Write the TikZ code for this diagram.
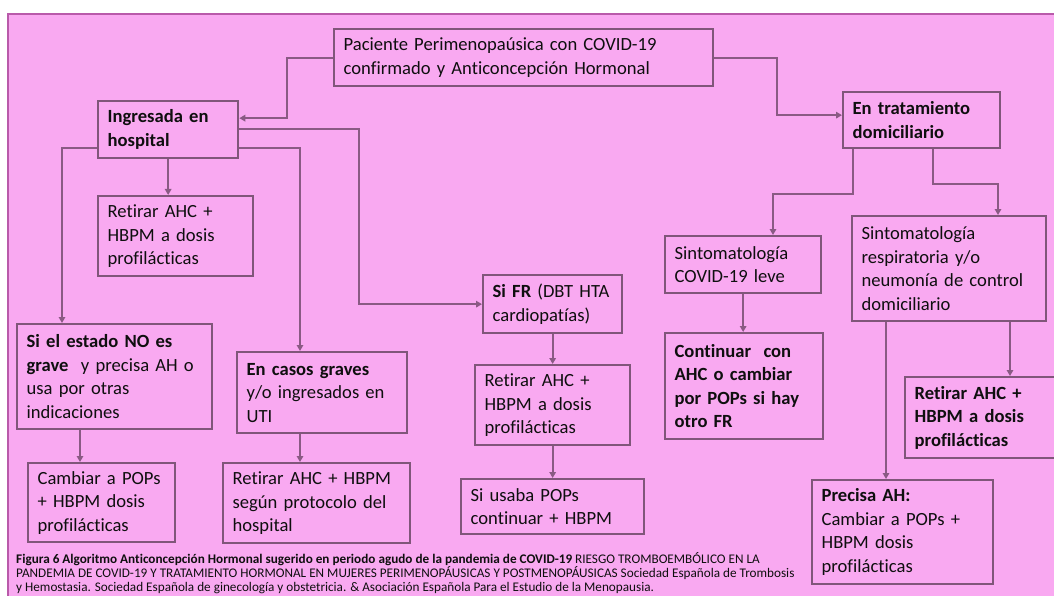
\documentclass[tikz,border=0pt]{standalone}
\usepackage{fontspec}
\setmainfont{Carlito}[Ligatures={NoCommon}]
\usetikzlibrary{calc,arrows.meta}
\definecolor{bgpink}{RGB}{249,169,241}
\definecolor{framec}{RGB}{185,90,170}
\definecolor{boxc}{RGB}{128,86,122}
\definecolor{arrc}{RGB}{138,90,132}
\definecolor{txtc}{RGB}{15,15,15}
\tikzset{
  box/.style={draw=boxc, line width=2.3pt, inner xsep=0pt, inner ysep=0pt, align=left,
    text=txtc, font=\fontsize{18.6}{23.5}\selectfont},
  arr/.style={draw=arrc, line width=1.9pt, -{Triangle[length=6pt,width=6.5pt]}},
}
\newcommand\mybox[6]{%
  \pgfmathsetmacro\BXw{#3-#1}\pgfmathsetmacro\BXh{#4-#2}\pgfmathsetmacro\BXt{#3-#1-19}%
  \node[box,minimum width=\BXw pt,minimum height=\BXh pt,text width=\BXt pt,anchor=north west] (#5) at (#1,#2) {#6};}
\begin{document}
\begin{tikzpicture}[x=1pt,y=-1pt]
\useasboundingbox (0,0) rectangle (1054,596);
\clip (0,0) rectangle (1054,596);
\fill[white] (0,0) rectangle (1054,596);
\draw[framec, line width=1.8pt, fill=bgpink] (8,14) rectangle (1070,610);

\mybox{333}{28}{712}{85}{pac}{Paciente Perimenopaúsica con COVID-19\\confirmado y Anticoncepción Hormonal}
\mybox{97}{100}{237}{157}{ing}{\textbf{Ingresada en}\\\textbf{hospital}}
\mybox{842}{91}{999}{147}{trat}{\textbf{En tratamiento}\\\textbf{domiciliario}}
\mybox{97}{195}{252}{275}{ret1}{Retirar AHC +\\HBPM a dosis\\profilácticas}
\mybox{16}{323}{211}{428}{estado}{\textbf{Si el estado NO es}\\\textbf{grave}\ \ y precisa AH o\\usa por otras\\indicaciones}
\mybox{236}{351}{406}{432}{graves}{\textbf{En casos graves}\\y/o ingresados en\\UTI}
\mybox{27}{462}{174}{541}{cambiar}{Cambiar a POPs\\+ HBPM dosis\\profilácticas}
\mybox{222}{462}{409}{542}{protocolo}{Retirar AHC + HBPM\\según protocolo del\\hospital}
\mybox{482}{274}{621}{332}{sifr}{\textbf{Si FR} (DBT HTA\\cardiopatías)}
\mybox{474}{364}{629}{444}{ret2}{Retirar AHC +\\HBPM a dosis\\profilácticas}
\mybox{460}{478}{643}{533}{usaba}{Si usaba POPs\\continuar + HBPM}
\mybox{664}{235}{820}{292}{leve}{Sintomatología\\COVID-19 leve}
\mybox{664}{332}{822}{438}{continuar}{\textbf{Continuar\ \ con}\\\textbf{AHC o cambiar}\\\textbf{por POPs si hay}\\\textbf{otro FR}}
\mybox{851}{215}{1045}{320}{resp}{Sintomatología\\respiratoria y/o\\neumonía de control\\domiciliario}
\mybox{904}{376}{1062}{457}{ret3}{\textbf{Retirar AHC +}\\\textbf{HBPM a dosis}\\\textbf{profilácticas}}
\mybox{811}{479}{992}{583}{precisa}{\textbf{Precisa AH:}\\Cambiar a POPs +\\HBPM dosis\\profilácticas}

\coordinate (xd) at (62,0);
\coordinate (xe) at (300,0);
\coordinate (xg) at (80,0);
\coordinate (xk1) at (853,0);
\coordinate (xk2) at (773,0);
\coordinate (xl1) at (933,0);
\coordinate (xl2) at (998,0);
\coordinate (xm) at (886,0);
\coordinate (xn) at (1010,0);

\draw[arr] (pac.west) -| ($(ing.east)+(48,-11.5)$) -- ($(ing.east)+(0,-11.5)$);
\draw[arr] (pac.east) -| ($(trat.west)+(-65,-5)$) -- ($(trat.west)+(0,-5)$);
\draw[arr] (ing.south) -- (ing.south |- ret1.north);
\draw[arr] ($(ing.west)+(0,18.5)$) -| (xd |- estado.north);
\draw[arr] ($(ing.east)+(0,18.5)$) -| (xe |- graves.north);
\draw[arr] ($(ing.east)+(0,-0.5)$) -| ($(sifr.west)+(-123,0)$) -- (sifr.west);
\draw[arr] (xg |- estado.south) -- (xg |- cambiar.north);
\draw[arr] (xe |- graves.south) -- (xe |- protocolo.north);
\draw[arr] (sifr.south) -- (sifr.south |- ret2.north);
\draw[arr] (ret2.south) -- (ret2.south |- usaba.north);
\draw[arr] (xk1 |- trat.south) -- ++(0,45) -| (xk2 |- leve.north);
\draw[arr] (leve.south) -- (leve.south |- continuar.north);
\draw[arr] (xl1 |- trat.south) -- ++(0,35) -| (xl2 |- resp.north);
\draw[arr] (xm |- resp.south) -- (xm |- precisa.north);
\draw[arr] (xn |- resp.south) -- (xn |- ret3.north);

\node[anchor=north west, align=left, inner sep=0pt, text=txtc,
  font=\fontsize{13.2}{14}\selectfont] (cap) at (16,552.5)
  {\textbf{Figura 6 Algoritmo Anticoncepción Hormonal sugerido en periodo agudo de la pandemia de COVID-19} RIESGO TROMBOEMBÓLICO EN LA\\
   PANDEMIA DE COVID-19 Y TRATAMIENTO HORMONAL EN MUJERES PERIMENOPÁUSICAS Y POSTMENOPÁUSICAS Sociedad Española de Trombosis\\
   y Hemostasia. Sociedad Española de ginecología y obstetricia. \& Asociación Española Para el Estudio de la Menopausia.};
\end{tikzpicture}
\end{document}
